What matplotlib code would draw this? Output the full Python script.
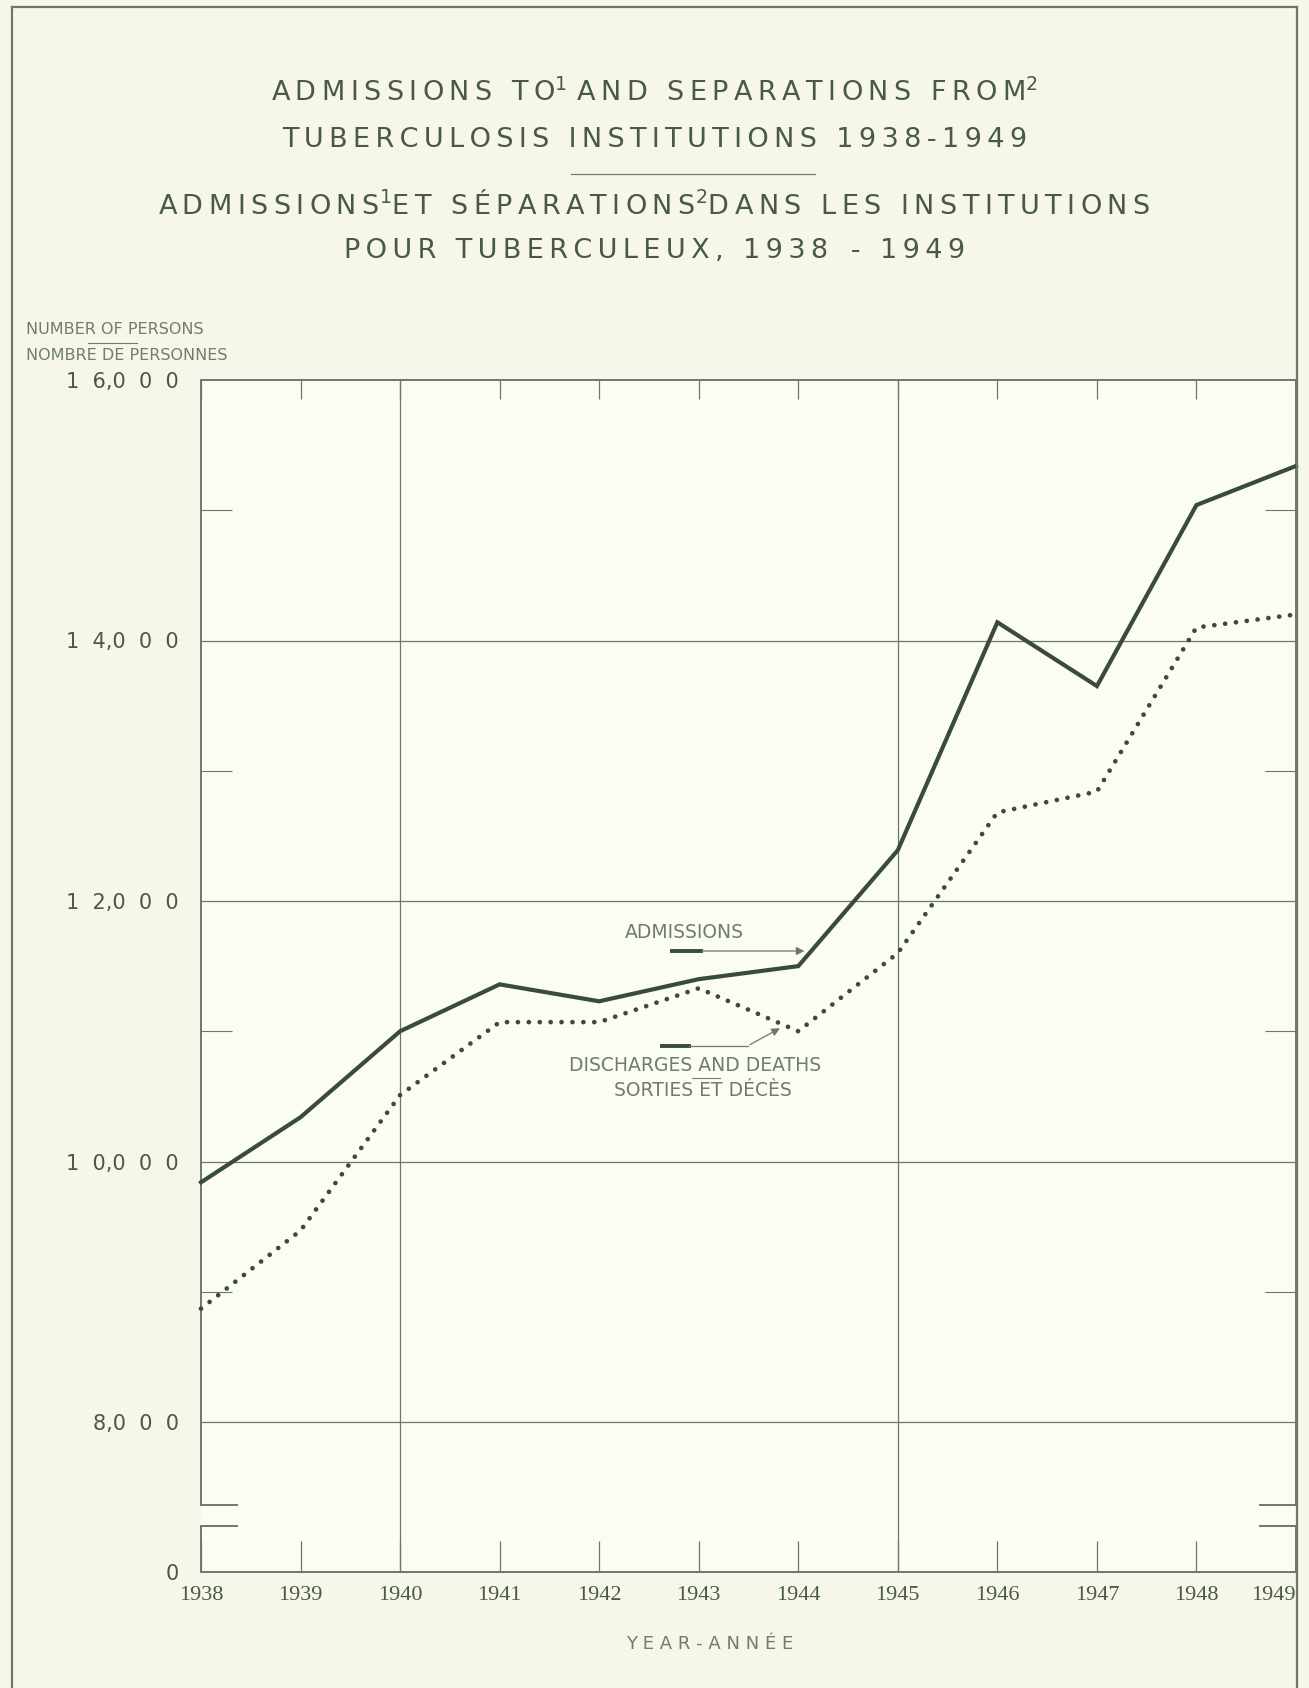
import matplotlib.pyplot as plt
from matplotlib.lines import Line2D
from matplotlib.patches import Rectangle
from matplotlib.ticker import FixedLocator

# Data
years = list(range(1938, 1950))
admissions = [9840, 10340, 11000, 11360, 11230, 11400, 11500, 12390, 14140, 13650, 15040, 15340]
discharges = [8870, 9470, 10510, 11070, 11070, 11330, 11000, 11600, 12680, 12840, 14100, 14200]
y_major = [8000, 10000, 12000, 14000, 16000]
y_labels = ['8,0  0  0', '1  0,0  0  0', '1  2,0  0  0', '1  4,0  0  0', '1  6,0  0  0']
y_minor = [9000, 11000, 13000, 15000]

ink = '#394c3c'
grid_c = '#6b7a68'
text_c = '#485a47'
light_c = '#6f7d6b'
paper = '#f6f7ea'
plot_bg = '#fbfcf4'

W, H = 1309, 1688
fig = plt.figure(figsize=(W / 100, H / 100), dpi=100, facecolor=paper)


def fx(px):
    return px / W


def fy(py):
    return 1 - py / H


def spaced(s):
    # letter spacing with thin spaces, words kept apart by a normal space
    return '\u2009'.join(s)


# Outer frame
fig.add_artist(Line2D([fx(12), fx(12)], [fy(7), 0], color=grid_c, lw=1.6))
fig.add_artist(Line2D([fx(12), fx(1297)], [fy(7), fy(7)], color=grid_c, lw=1.6))
fig.add_artist(Line2D([fx(1297), fx(1297)], [fy(7), 0], color=grid_c, lw=1.6))

# Plot area background (also fills the gap at the axis break)
fig.add_artist(Rectangle((fx(201), fy(1572)), fx(1296) - fx(201), fy(380) - fy(1572),
                         facecolor=plot_bg, edgecolor='none', zorder=-5))

# Titles
tkw = dict(ha='center', va='center', color=text_c, fontsize=19.5, family='DejaVu Sans')
fig.text(0.5, fy(93), spaced('ADMISSIONS TO') + r'$^{1}$ ' + spaced('AND SEPARATIONS FROM') + r'$^{2}$', **tkw)
fig.text(0.5, fy(140), spaced('TUBERCULOSIS INSTITUTIONS 1938-1949'), **tkw)
fig.add_artist(Line2D([fx(571), fx(815)], [fy(174), fy(174)], color=light_c, lw=0.9))
fig.text(0.5, fy(205), spaced('ADMISSIONS') + r'$^{1}$' + spaced('ET SÉPARATIONS') + r'$^{2}$'
         + spaced('DANS LES INSTITUTIONS'), **tkw)
fig.text(0.5, fy(251), spaced('POUR TUBERCULEUX, 1938 ') + ' ' + spaced('- 1949'), **tkw)

# Axis label (top left)
fig.text(fx(26), fy(330), 'NUMBER OF PERSONS', ha='left', va='center', color=light_c, fontsize=11.5)
fig.add_artist(Line2D([fx(88), fx(137)], [fy(343), fy(343)], color=light_c, lw=0.8))
fig.text(fx(26), fy(356), 'NOMBRE DE PERSONNES', ha='left', va='center', color=light_c, fontsize=11.5)

# Upper (main) panel and lower (zero) panel with the broken axis
left, right = fx(201), fx(1296)
ax = fig.add_axes([left, fy(1505), right - left, fy(380) - fy(1505)], facecolor=plot_bg)
ax0 = fig.add_axes([left, fy(1572), right - left, fy(1526) - fy(1572)], facecolor=plot_bg)

ylow = 8000 - (1505 - 1422) / 1042 * 8000
ax.set_xlim(1938, 1949)
ax.set_ylim(ylow, 16000)
ax0.set_xlim(1938, 1949)
ax0.set_ylim(0, 400)

for a in (ax, ax0):
    for s in a.spines.values():
        s.set_color(grid_c)
        s.set_linewidth(1.4)
ax.spines['bottom'].set_visible(False)
ax0.spines['top'].set_visible(False)

# Gridlines
for v in [8000, 10000, 12000, 14000]:
    ax.axhline(v, color=grid_c, lw=0.9, zorder=1)
for yr in [1940, 1945]:
    ax.axvline(yr, ymin=-0.02, ymax=1, color=grid_c, lw=0.9, zorder=1, clip_on=False)
    ax0.axvline(yr, color=grid_c, lw=0.9, zorder=1)

# Break stubs
stub = 36 / 99.5
ax.plot([1938, 1938 + stub], [ylow, ylow], color=grid_c, lw=1.4, clip_on=False)
ax.plot([1949 - stub, 1949], [ylow, ylow], color=grid_c, lw=1.4, clip_on=False)
ax0.plot([1938, 1938 + stub], [400, 400], color=grid_c, lw=1.4, clip_on=False)
ax0.plot([1949 - stub, 1949], [400, 400], color=grid_c, lw=1.4, clip_on=False)

# Ticks on the main panel
ax.yaxis.set_major_locator(FixedLocator(y_major))
ax.set_yticklabels(y_labels)
ax.yaxis.set_minor_locator(FixedLocator(y_minor))
ax.tick_params(axis='y', which='major', length=0, pad=16, labelsize=15, labelcolor=text_c)
ax.tick_params(axis='y', which='minor', direction='in', length=22, width=0.8,
               color=grid_c, left=True, right=True)
ax.xaxis.set_major_locator(FixedLocator(years))
ax.tick_params(axis='x', which='major', direction='in', length=14, width=0.9, color=grid_c,
               top=True, bottom=False, labelbottom=False, labeltop=False)
for lab in ax.get_yticklabels():
    lab.set_family('DejaVu Sans')

# Ticks on the zero panel
ax0.set_yticks([0])
ax0.set_yticklabels(['0'])
ax0.tick_params(axis='y', length=0, pad=16, labelsize=15, labelcolor=text_c)
ax0.set_xticks(years)
ax0.set_xticklabels([str(y) for y in years])
ax0.tick_params(axis='x', direction='in', length=22, width=0.9, color=grid_c, pad=10,
                labelsize=16, labelcolor=text_c)
for lab in ax0.get_xticklabels():
    lab.set_family('Liberation Serif')
ax0.get_xticklabels()[-1].set_horizontalalignment('right')

# Series
ax.plot(years, admissions, color=ink, lw=3.0, solid_joinstyle='miter', zorder=3, clip_on=False)
ax.plot(years, discharges, color=ink, lw=3.4, linestyle=(0, (0.01, 2.3)),
        dash_capstyle='round', zorder=3, clip_on=False)

# Annotations
akw = dict(ha='center', va='center', color=light_c, fontsize=13.5)
ax.text(1942.86, 11610 + 145, 'ADMISSIONS', **akw)
ax.plot([1942.71, 1943.04], [11616, 11616], color=ink, lw=2.8, solid_capstyle='butt')
ax.annotate('', xy=(1944.09, 11616), xytext=(1943.0, 11616),
            arrowprops=dict(arrowstyle='-|>', color=grid_c, lw=0.9, mutation_scale=12))
ax.plot([1942.61, 1942.92], [10887, 10887], color=ink, lw=2.8, solid_capstyle='butt')
ax.plot([1942.9, 1943.49], [10887, 10887], color=grid_c, lw=0.9)
ax.annotate('', xy=(1943.84, 11033), xytext=(1943.49, 10887),
            arrowprops=dict(arrowstyle='-|>', color=grid_c, lw=0.9, mutation_scale=12))
ax.text(1942.96, 10735, 'DISCHARGES AND DEATHS', **akw)
ax.plot([1942.93, 1943.21], [10643, 10643], color=light_c, lw=0.8)
ax.text(1943.04, 10545, 'SORTIES ET DÉCÈS', **akw)

# X axis title
fig.text(fx(710), fy(1644), 'Y E A R - A N N É E', ha='center', va='center',
         color=light_c, fontsize=13)

fig.savefig('out.png', dpi=100, facecolor=paper)
